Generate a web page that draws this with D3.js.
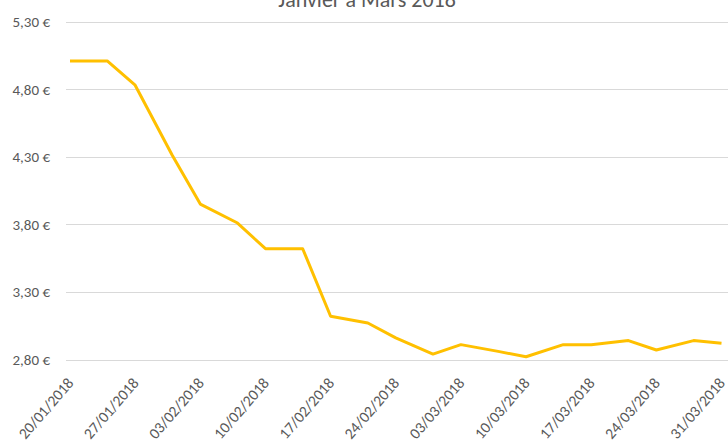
<!DOCTYPE html>
<html>
<head>
<meta charset="utf-8">
<script src="https://cdn.jsdelivr.net/npm/d3@7"></script>
<style>
  body { margin: 0; background: #fff; }
  text { font-family: "Carlito", "Lato", sans-serif; fill: #595959; }
</style>
</head>
<body>
<div id="container"></div>
<script>
// relevé deux fois par semaine (mercredi / samedi)
const dates = [
  "20/01/2018", "24/01/2018", "27/01/2018", "31/01/2018", "03/02/2018",
  "07/02/2018", "10/02/2018", "14/02/2018", "17/02/2018", "21/02/2018",
  "24/02/2018", "28/02/2018", "03/03/2018", "07/03/2018", "10/03/2018",
  "14/03/2018", "17/03/2018", "21/03/2018", "24/03/2018", "28/03/2018",
  "31/03/2018"
];
const prices = [
  5.01, 5.01, 4.83, 4.31, 3.95,
  3.81, 3.62, 3.62, 3.12, 3.07,
  2.96, 2.84, 2.91, 2.86, 2.82,
  2.91, 2.91, 2.94, 2.87, 2.94,
  2.92
];
const yTicks = [2.8, 3.3, 3.8, 4.3, 4.8, 5.3];
const xTickLabels = [
  "20/01/2018", "27/01/2018", "03/02/2018", "10/02/2018", "17/02/2018",
  "24/02/2018", "03/03/2018", "10/03/2018", "17/03/2018", "24/03/2018",
  "31/03/2018"
];
const title = "Janvier à Mars 2018";

const width = 728, height = 446;
const parse = d3.timeParse("%d/%m/%Y");
const fmtDate = d3.timeFormat("%d/%m/%Y");
const fmtPrice = v => d3.format(".2f")(v).replace(".", ",") + " €";

const data = dates.map((d, i) => ({ date: parse(d), value: prices[i] }));

const x = d3.scaleTime()
  .domain([parse(xTickLabels[0]), parse(xTickLabels[xTickLabels.length - 1])])
  .range([70, 721.5]);
const y = d3.scaleLinear().domain([2.8, 5.3]).range([359.5, 21.7]);

const svg = d3.select("#container").append("svg")
  .attr("width", width)
  .attr("height", height);

svg.append("text")
  .attr("x", 367)
  .attr("y", 7)
  .attr("text-anchor", "middle")
  .style("font-size", "22px")
  .text(title);

// axe Y
const yAxis = svg.append("g")
  .attr("transform", "translate(66,0)")
  .call(d3.axisLeft(y).tickValues(yTicks).tickFormat(fmtPrice).tickSize(0).tickPadding(16));
yAxis.select(".domain").remove();
yAxis.selectAll("text").style("font-size", "15px").attr("fill", "#595959");

// grille horizontale
svg.append("g")
  .selectAll("line")
  .data(yTicks)
  .join("line")
  .attr("x1", 66)
  .attr("x2", width)
  .attr("y1", d => Math.round(y(d)) + 0.5)
  .attr("y2", d => Math.round(y(d)) + 0.5)
  .attr("stroke", "#d9d9d9")
  .attr("stroke-width", 1);

// axe X, étiquettes inclinées
const xAxis = svg.append("g")
  .attr("transform", `translate(0,${y(2.8)})`)
  .call(d3.axisBottom(x).tickValues(xTickLabels.map(parse)).tickFormat(fmtDate).tickSize(0));
xAxis.select(".domain").remove();
xAxis.selectAll("text")
  .style("font-size", "15.5px")
  .attr("fill", "#595959")
  .attr("text-anchor", "end")
  .attr("dy", null)
  .attr("y", 0)
  .attr("transform", "translate(4,24) rotate(-49)");

const line = d3.line()
  .x(d => x(d.date))
  .y(d => y(d.value));

svg.append("path")
  .datum(data)
  .attr("fill", "none")
  .attr("stroke", "#FFC000")
  .attr("stroke-width", 3)
  .attr("stroke-linejoin", "round")
  .attr("d", line);
</script>
</body>
</html>
